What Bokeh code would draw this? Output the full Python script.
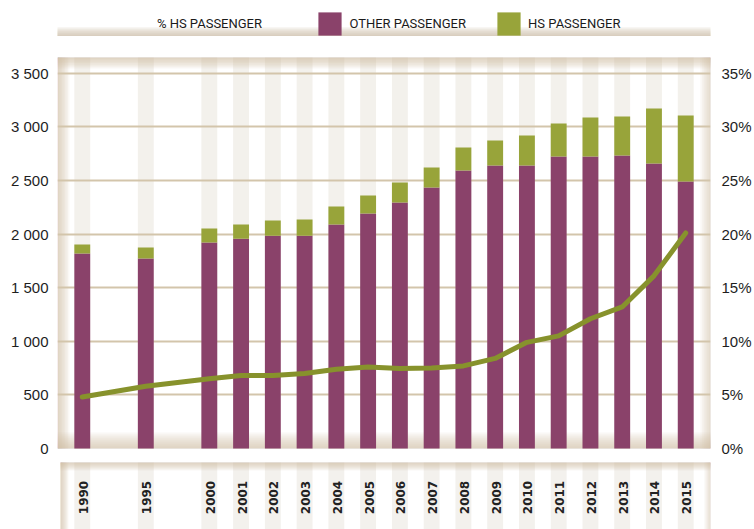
import math
from bokeh.plotting import figure
from bokeh.models import (Range1d, FactorRange, LinearAxis, FixedTicker, Legend,
                          LegendItem, ColumnDataSource)
from bokeh.core.properties import value
from bokeh.embed import file_html
from bokeh.resources import INLINE

# ---------------- data ----------------
years = ["1990", "1995", "2000", "2001", "2002", "2003", "2004", "2005", "2006",
         "2007", "2008", "2009", "2010", "2011", "2012", "2013", "2014", "2015"]
other_passenger = [1818, 1771, 1920, 1957, 1985, 1985, 2089, 2191, 2294,
                   2434, 2592, 2639, 2639, 2723, 2723, 2732, 2658, 2490]
hs_passenger = [84, 103, 131, 132, 141, 150, 168, 169, 186,
                186, 214, 233, 280, 308, 364, 364, 513, 616]
pct_hs_passenger = [4.8, 5.8, 6.5, 6.8, 6.8, 7.0, 7.4, 7.6, 7.45,
                    7.5, 7.7, 8.4, 9.9, 10.5, 12.1, 13.2, 16.1, 20.1]

left_ticks = [0, 500, 1000, 1500, 2000, 2500, 3000, 3500]
left_tick_labels = ["0", "500", "1 000", "1 500", "2 000", "2 500", "3 000", "3 500"]
pct_ticks = [0, 5, 10, 15, 20, 25, 30, 35]
pct_tick_labels = ["0%", "5%", "10%", "15%", "20%", "25%", "30%", "35%"]

legend_labels = ["% HS PASSENGER", "OTHER PASSENGER", "HS PASSENGER"]

# ---------------- style ----------------
PURPLE = "#8a426a"
GREEN = "#98a43a"
LINE_GREEN = "#87922c"
GRID = "#d3c5ab"
STRIPE = "#f3f1ec"
EDGE = "#cbb9a0"
TEXT = "#1e1e1e"

W, H = 754, 529
FL, FR = 57, 712             # frame left/right (page px)
FT, FB = 0, 529              # frame top/bottom (page px)
ZERO_Y = 448                 # page px of value 0
K = 375.3 / 3500             # px per unit
PAD = 0.28

# x-range: one empty slot between non consecutive years
factors = []
prev = None
for yr in years:
    if prev is not None and int(yr) - int(prev) > 1:
        factors.append("gap " + prev)
    factors.append(yr)
    prev = yr
n_f = len(factors)
PADR = (FR - FL) / 31.67 - n_f - PAD
x_start, x_end = -PAD, n_f + PADR

ytop = (ZERO_Y - FT) / K
ybot = -(FB - ZERO_Y) / K


def dx(px):
    return x_start + (px - FL) * (x_end - x_start) / (FR - FL)


def dy(py):
    return (ZERO_Y - py) / K


p = figure(width=W, height=H, x_range=FactorRange(factors=factors, range_padding=PAD,
                                                  range_padding_units="absolute"),
           y_range=Range1d(ybot, ytop), output_backend="svg", toolbar_location=None,
           x_axis_location=None, min_border_left=FL, min_border_right=W - FR,
           min_border_top=0, min_border_bottom=0)
p.outline_line_color = None
p.background_fill_color = "white"
p.border_fill_color = "white"
p.extra_y_ranges = {"pct": Range1d(ybot / 100.0, ytop / 100.0)}

src = ColumnDataSource(dict(year=years, other=other_passenger, hs=hs_passenger,
                            pct=pct_hs_passenger))

# ---- background stripes (plot box and label box) ----
box_top = dy(57)
p.vbar(x="year", top=box_top, bottom=0, width=0.5, source=src, fill_color=STRIPE,
       line_color=None, level="image")
lab_top = dy(462)
p.vbar(x="year", top=lab_top, bottom=ybot, width=0.5, source=src, fill_color="#f3f1ed",
       line_color=None, level="image")

# ---- soft beige edges (boxes and legend shadow) ----
L, R, B, T, A = [], [], [], [], []


def add(x0, x1, y0, y1, a):
    L.append(dx(x0)); R.append(dx(x1)); T.append(dy(y0)); B.append(dy(y1)); A.append(a)


def box_edges(x0, x1, y0, y1, wl, wr, wt, wb, a, n=8):
    for j in range(1, n + 1):
        f = j / n
        if wl: add(x0, x0 + wl * f, y0, y1, a)
        if wr: add(x1 - wr * f, x1, y0, y1, a)
        if wt: add(x0, x1, y0, y0 + wt * f, a)
        if wb: add(x0, x1, y1 - wb * f, y1, a)


box_edges(57, 712, 57, 448, 12, 14, 11, 16, 0.10)
box_edges(60, 712, 462, 540, 8, 10, 8, 0, 0.10)
for j in range(1, 9):
    add(15 + (8 - j) * 3, 743 - (8 - j) * 3, 35.5 - j * 9 / 8, 35.5, 0.13)
p.quad(left=L, right=R, bottom=B, top=T, fill_color=EDGE, fill_alpha=A, line_color=None,
       level="image")

# ---- grid ----
p.xgrid.visible = False
p.ygrid.ticker = FixedTicker(ticks=left_ticks[1:])
p.ygrid.grid_line_color = GRID
p.ygrid.grid_line_width = 2

# ---- bars and line ----
bars = p.vbar_stack(["other", "hs"], x="year", width=0.5, source=src,
                    fill_color=[PURPLE, GREEN], line_color=None)
p.line(x="year", y="pct", source=src, y_range_name="pct", line_width=5,
       line_color=LINE_GREEN, line_join="round", line_cap="round")
pct_key = p.vbar(x=[], top=[], width=0.5, fill_color=GREEN, line_color=None)

# ---- year labels inside the lower box ----
p.text(x="year", y=dy(497), text="year", source=src, angle=math.pi / 2,
       text_align="center", text_baseline="middle", text_font=value("DejaVu Sans"),
       text_font_style="bold", text_font_size="12px", text_color="#222222", x_offset=1)

# ---- axes ----
ax = p.yaxis[0]
ax.ticker = FixedTicker(ticks=left_ticks)
ax.major_label_overrides = {t: s for t, s in zip(left_ticks, left_tick_labels)}
ax.major_label_standoff = 9
ra = LinearAxis(y_range_name="pct", ticker=FixedTicker(ticks=pct_ticks),
                major_label_overrides={t: s for t, s in zip(pct_ticks, pct_tick_labels)})
ra.major_label_standoff = 11
p.add_layout(ra, "right")
for a in (ax, ra):
    a.axis_line_color = None
    a.major_tick_line_color = None
    a.minor_tick_line_color = None
    a.major_tick_out = 0
    a.major_tick_in = 0
    a.major_label_text_font = "Liberation Sans"
    a.major_label_text_font_size = "15px"
    a.major_label_text_color = TEXT

# ---- legends ----
legend_specs = [
    (legend_labels[0], pct_key, 139.9, 11.25, 6),
    (legend_labels[1], bars[0], 315.4, 29.25, 5),
    (legend_labels[2], bars[1], 494.1, 29.25, 5),
]
for label, rend, lx, gw, st in legend_specs:
    leg = Legend(items=[LegendItem(label=label, renderers=[rend])],
                 location=(lx - FL, FB - 37.9), orientation="horizontal",
                 glyph_width=int(round(gw)), glyph_height=29, label_standoff=st,
                 padding=0, margin=0, spacing=0, border_line_color=None,
                 background_fill_alpha=0, label_text_font="Roboto",
                 label_text_font_size="13px", label_text_color="#1a1a1a",
                 label_text_baseline="bottom")
    p.add_layout(leg)

open("out.html", "w").write(file_html(p, INLINE))
